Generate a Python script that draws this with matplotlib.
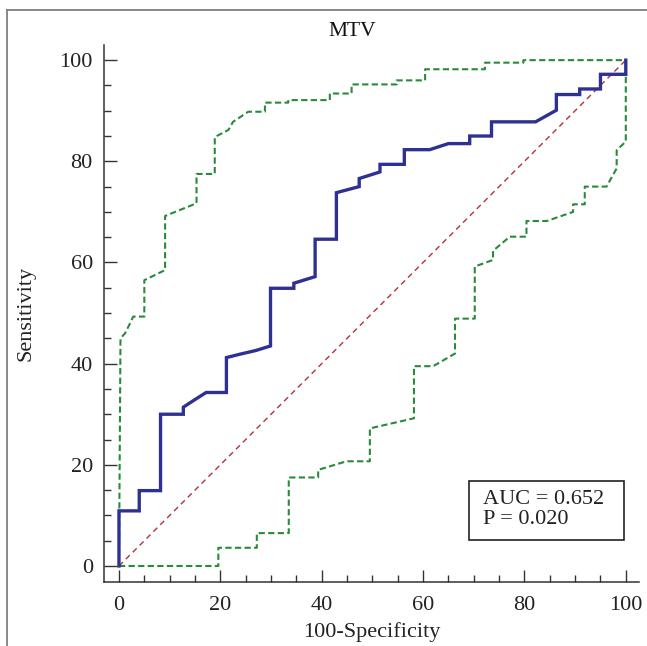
import matplotlib
matplotlib.use('Agg')
import matplotlib.pyplot as plt
from matplotlib.lines import Line2D
from matplotlib.patches import Rectangle
from matplotlib.ticker import MultipleLocator

plt.rcParams['font.family'] = ['Liberation Serif', 'DejaVu Serif']

# ROC curve vertices (100-specificity, sensitivity)
roc_x = [0, 0, 4.0, 4.0, 8.2, 8.2, 12.7, 12.7, 15.0, 17.2, 21.2, 21.2, 24.0, 27.0, 29.9, 29.9,
         34.5, 34.5, 38.7, 38.7, 42.9, 42.9, 47.4, 47.4, 51.5, 51.5, 56.3, 56.3, 61.3, 65.0,
         69.2, 69.2, 73.5, 73.5, 82.2, 86.3, 86.3, 90.9, 90.9, 95.0, 95.0, 100, 100]
roc_y = [0, 10.9, 10.9, 14.9, 14.9, 30.0, 30.0, 31.4, 32.9, 34.3, 34.3, 41.2, 41.9, 42.6, 43.5, 54.9,
         54.9, 55.9, 57.2, 64.6, 64.6, 73.8, 75.0, 76.6, 77.9, 79.4, 79.4, 82.3, 82.3, 83.5,
         83.5, 85.0, 85.0, 87.8, 87.8, 90.1, 93.2, 93.2, 94.3, 94.3, 97.2, 97.2, 100]

# upper confidence bound
up_x = [0, 0.3, 1.2, 2.2, 2.8, 5.0, 5.0, 9.1, 9.1, 15.3, 15.3, 18.9, 18.9, 21.6, 22.5, 25.5,
        28.8, 28.8, 33.4, 33.4, 41.6, 41.6, 45.9, 45.9, 54.8, 54.8, 60.4, 60.4, 72.2, 72.2,
        79.8, 79.8, 100]
up_y = [0, 45.0, 46.0, 48.0, 49.3, 49.3, 56.5, 58.5, 69.2, 71.7, 77.5, 77.5, 84.8, 86.2, 87.8, 89.8,
        89.8, 91.6, 91.6, 92.1, 92.1, 93.4, 93.4, 95.2, 95.2, 96.0, 96.0, 98.2, 98.2, 99.5,
        99.5, 100, 100]

# lower confidence bound
lo_x = [0, 19.6, 19.6, 27.2, 27.2, 33.5, 33.5, 39.3, 39.3, 44.9, 49.5, 49.5, 58.2, 58.2, 62.0,
        66.3, 66.3, 70.2, 70.2, 73.8, 73.8, 77.1, 80.4, 80.4, 84.4, 89.6, 89.6, 91.9, 91.9,
        96.2, 98.2, 98.2, 100, 100]
lo_y = [0, 0, 3.6, 3.6, 6.5, 6.5, 17.5, 17.5, 19.0, 20.7, 20.7, 27.2, 29.2, 39.5, 39.5,
        42.0, 48.9, 48.9, 59.2, 60.5, 62.3, 65.1, 65.1, 68.2, 68.2, 70.0, 71.5, 71.5, 75.0,
        75.0, 78.6, 82.2, 83.9, 100]

ref = [0, 100]
auc_text = "AUC = 0.652\nP = 0.020"

fig = plt.figure(figsize=(6.47, 6.46), dpi=100)
ax = fig.add_axes([0.1607, 0.0991, 0.8269, 0.8313])

ax.plot(ref, ref, color='#b0323a', lw=1.0, dashes=(4, 3))
ax.plot(up_x, up_y, color='#2a8a3c', lw=1.5, dashes=(3, 1.6))
ax.plot(lo_x, lo_y, color='#2a8a3c', lw=1.5, dashes=(3, 1.6))
ax.plot(roc_x, roc_y, color='#2e3192', lw=2.4, solid_joinstyle='miter')

ax.set_xlim(-2.96, 102.6)
ax.set_ylim(-3.16, 103)
ax.xaxis.set_major_locator(MultipleLocator(20))
ax.xaxis.set_minor_locator(MultipleLocator(5))
ax.yaxis.set_major_locator(MultipleLocator(20))
ax.yaxis.set_minor_locator(MultipleLocator(5))
ax.tick_params(which='both', direction='in', color='#333333', width=1.0, labelsize=16,
               labelcolor='#222222')
ax.tick_params(which='major', length=9)
ax.tick_params(which='minor', length=4.8)
ax.tick_params(axis='y', pad=8)
ax.tick_params(axis='x', pad=10)
for s in ['top', 'right']:
    ax.spines[s].set_visible(False)
for s in ['left', 'bottom']:
    ax.spines[s].set_color('#333333')
    ax.spines[s].set_linewidth(1.1)

ax.set_xlabel('100-Specificity', fontsize=16, color='#222222', labelpad=5)
ax.set_ylabel('Sensitivity', fontsize=16, color='#222222', labelpad=17)
fig.text(0.544, 0.952, 'MTV', fontsize=15.5, ha='center', va='center', color='#111111')

ax.add_patch(Rectangle((69.0, 5.1), 30.6, 11.7, fill=False, ec='#222222', lw=1.2))
ax.text(71.8, 11.2, auc_text, fontsize=16, va='center', ha='left', color='#222222',
        linespacing=1.12)

# image frame (top and left edges)
fig.add_artist(Line2D([7 / 647, 1], [1 - 9.5 / 646] * 2, transform=fig.transFigure,
                      color='#808080', lw=1.3))
fig.add_artist(Line2D([7 / 647] * 2, [0, 1 - 9.5 / 646], transform=fig.transFigure,
                      color='#808080', lw=1.3))

fig.savefig('out.png', dpi=100)
